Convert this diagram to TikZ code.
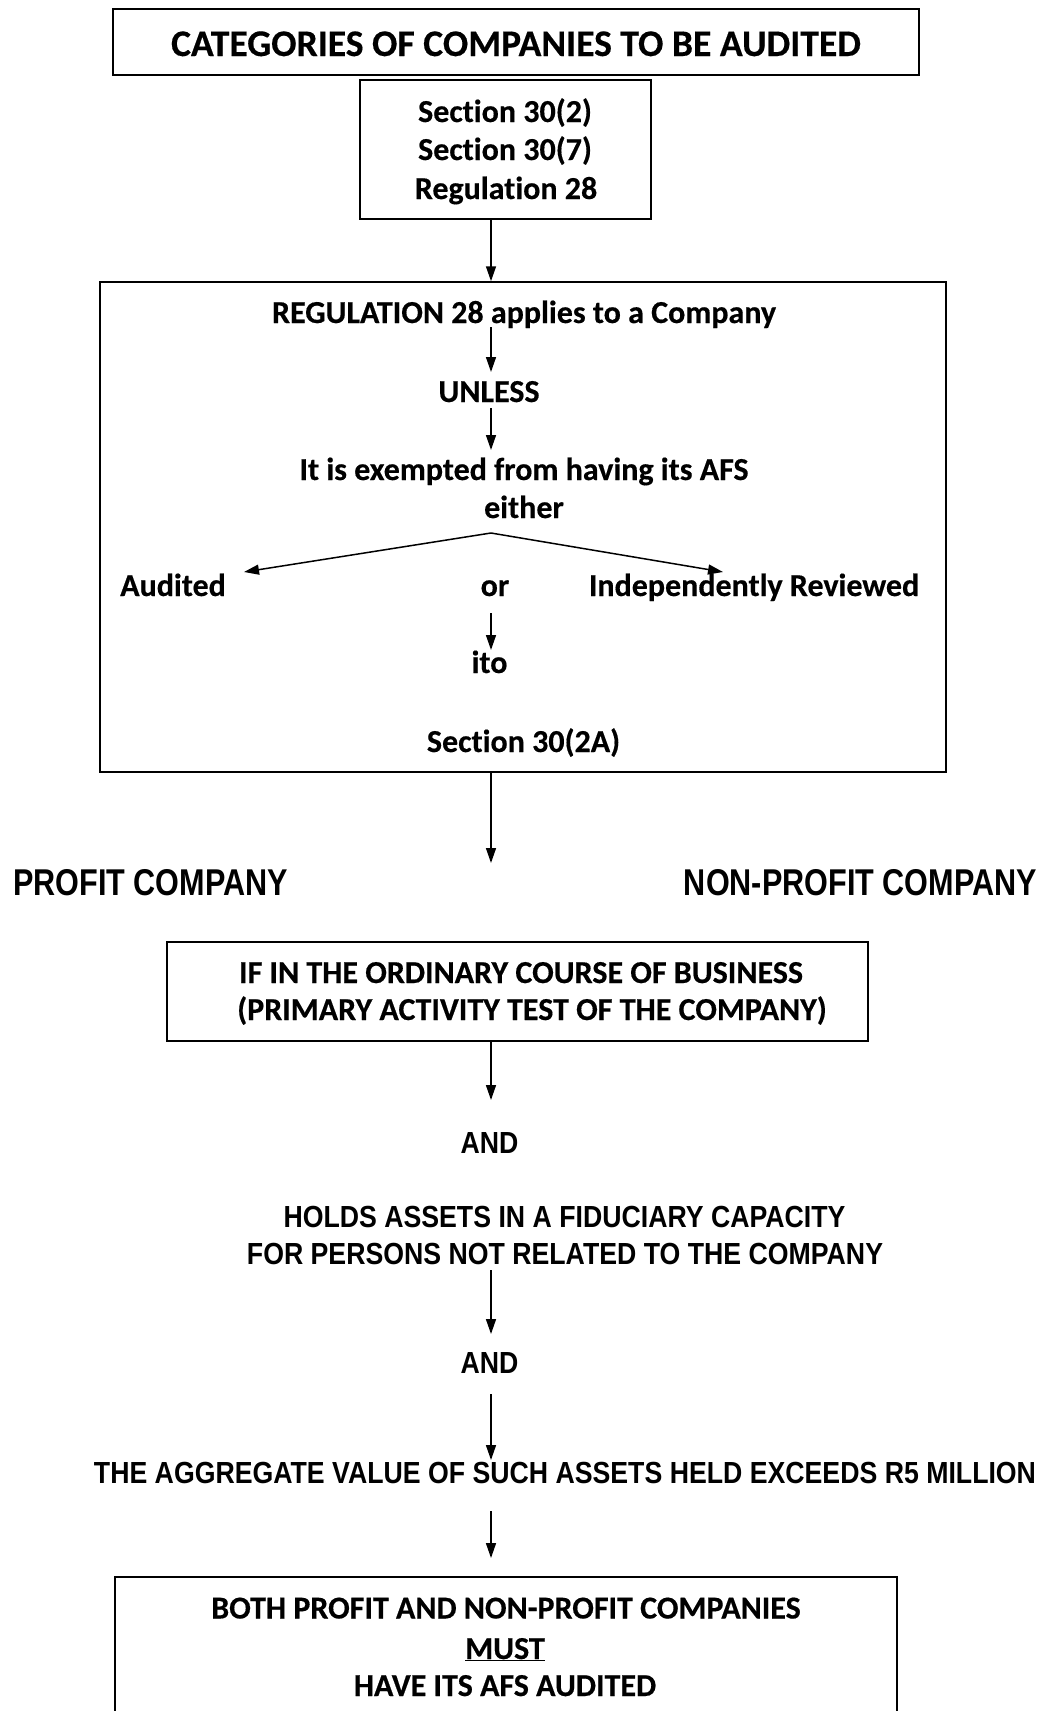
\documentclass[tikz,border=0pt]{standalone}
\usepackage{fontspec}
\newfontfamily\calb{Carlito}[RawFeature={-liga}, BoldFeatures={FakeBold=0.4}]
\newfontfamily\narw{Liberation Sans}[FakeStretch=0.82]
\newfontfamily\narwb{Liberation Sans}[FakeStretch=0.875]
\usetikzlibrary{arrows.meta}
\begin{document}
\begin{tikzpicture}[x=1pt,y=-1pt,
  box/.style={draw, line width=1.5pt, inner sep=0pt, rectangle},
  arr/.style={line width=1.5pt, -{Triangle[length=15pt,width=10pt]}},
  ct/.style={font=\calb\bfseries\fontsize{32}{38}\selectfont, inner sep=0pt, anchor=base},
  tt/.style={font=\calb\bfseries\fontsize{37.6}{44}\selectfont, inner sep=0pt, anchor=base},
  nt/.style={font=\narwb\bfseries\fontsize{30.5}{36}\selectfont, inner sep=0pt, anchor=base},
  nb/.style={font=\narw\bfseries\fontsize{37.3}{44}\selectfont, inner sep=0pt}]
\useasboundingbox (0,0) rectangle (1044,1711);
\coordinate (axis) at (491,0);
% boxes
\node[box, minimum width=806pt, minimum height=66pt] (titlebox) at (516,42) {};
\node[box, minimum width=291pt, minimum height=139pt] (secbox) at (505.5,149.5) {};
\node[box, minimum width=846pt, minimum height=490pt] (regbox) at (523,527) {};
\node[box, minimum width=701pt, minimum height=99pt] (ifbox) at (517.5,991.5) {};
\node[box, minimum width=782pt, minimum height=143pt] (bothbox) at (506,1648.5) {};
% texts
\node[tt] (title) at (516,56) {CATEGORIES OF COMPANIES TO BE AUDITED};
\node[ct] (s1) at (505,122) {Section 30(2)};
\node[ct] (s2) at (505,160) {Section 30(7)};
\node[ct] (s3) at (506,199) {Regulation 28};
\node[ct] (reg) at (524,323) {REGULATION 28 applies to a Company};
\node[ct] (unless) at (489,402) {UNLESS};
\node[ct] (exempt) at (524,480) {It is exempted from having its AFS};
\node[ct] (either) at (524,518) {either};
\node[ct] (audited) at (173,596) {Audited};
\node[ct] (or) at (495,596) {or};
\node[ct] (indep) at (754,596) {Independently Reviewed};
\node[ct] (ito) at (489.5,673) {ito};
\node[ct] (sec2a) at (523.5,752) {Section 30(2A)};
\node[nb, anchor=base west] (profit) at (13,895) {PROFIT COMPANY};
\node[nb, anchor=base east] (nonprofit) at (1037,895) {NON-PROFIT COMPANY};
\node[ct] (if1) at (521,983) {IF IN THE ORDINARY COURSE OF BUSINESS};
\node[ct] (if2) at (532,1020) {(PRIMARY ACTIVITY TEST OF THE COMPANY)};
\node[nt] (and1) at (489.5,1153) {AND};
\node[nt] (holds1) at (564.5,1227.5) {HOLDS ASSETS IN A FIDUCIARY CAPACITY};
\node[nt] (holds2) at (565,1264) {FOR PERSONS NOT RELATED TO THE COMPANY};
\node[nt] (and2) at (489.5,1373.5) {AND};
\node[nt] (aggr) at (565,1483) {THE AGGREGATE VALUE OF SUCH ASSETS HELD EXCEEDS R5 MILLION};
\node[ct] (both) at (506,1618.5) {BOTH PROFIT AND NON-PROFIT COMPANIES};
\node[ct] (must) at (505,1659) {\underline{MUST}};
\node[ct] (have) at (505,1696) {HAVE ITS AFS AUDITED};
% connector end points
\coordinate (a2s) at (491,327); \coordinate (a2e) at (491,372);
\coordinate (a3s) at (491,408); \coordinate (a3e) at (491,450);
\coordinate (apex) at (491,533);
\coordinate (lt) at (244,572); \coordinate (rt) at (723,572);
\coordinate (a4s) at (491,613); \coordinate (a4e) at (491,650);
\coordinate (a5e) at (491,863);
\coordinate (a6e) at (491,1100);
\coordinate (a7s) at (491,1270); \coordinate (a7e) at (491,1334);
\coordinate (a8s) at (491,1394); \coordinate (a8e) at (491,1460);
\coordinate (a9s) at (491,1511); \coordinate (a9e) at (491,1558);
% connectors
\draw[arr] (secbox.south -| axis) -- (regbox.north -| axis);
\draw[arr] (a2s) -- (a2e);
\draw[arr] (a3s) -- (a3e);
\draw[arr] (apex) -- (lt);
\draw[arr] (apex) -- (rt);
\draw[arr] (a4s) -- (a4e);
\draw[arr] (regbox.south -| axis) -- (a5e);
\draw[arr] (ifbox.south -| axis) -- (a6e);
\draw[arr] (a7s) -- (a7e);
\draw[arr] (a8s) -- (a8e);
\draw[arr] (a9s) -- (a9e);
\end{tikzpicture}
\end{document}
